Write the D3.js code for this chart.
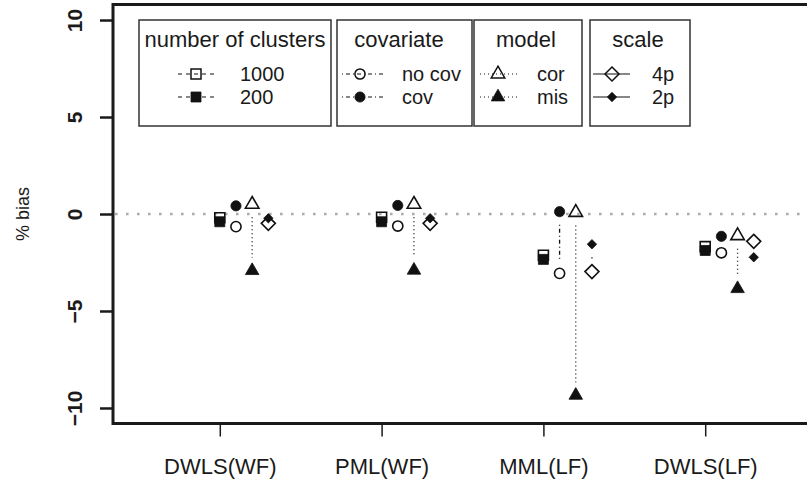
<!DOCTYPE html>
<html>
<head>
<meta charset="utf-8">
<script src="https://d3js.org/d3.v7.min.js"></script>
<style>
  body { margin: 0; background: #fff; }
  svg text { font-family: "Liberation Sans", Arial, sans-serif; fill: #1a1a1a; }
</style>
</head>
<body>
<svg id="chart" width="807" height="482"></svg>
<script>
// estimation methods (x axis)
var methods = ["DWLS(WF)", "PML(WF)", "MML(LF)", "DWLS(LF)"]
var yTicks = [-10, -5, 0, 5, 10]

// % bias per method
var clusters1000 = [-0.19, -0.17, -2.13, -1.68]
var clusters200  = [-0.40, -0.40, -2.34, -1.88]
var noCov        = [-0.65, -0.62, -3.06, -2.00]
var withCov      = [0.42, 0.44, 0.12, -1.15]
var modelCor     = [0.50, 0.50, 0.08, -1.12]
var modelMis     = [-2.92, -2.90, -9.35, -3.85]
var scale4p      = [-0.48, -0.48, -2.97, -1.41]
var scale2p      = [-0.22, -0.22, -1.56, -2.23]

// legend texts
var legendTitles = ["number of clusters", "covariate", "model", "scale"]
var legendLabels = [["1000", "200"], ["no cov", "cov"], ["cor", "mis"], ["4p", "2p"]]

var svg = d3.select("#chart")

var x = d3.scaleLinear().domain([0.34, 4.66]).range([113, 812])
var y = d3.scaleLinear().domain([-10.8, 10.8]).range([423.5, 4.5])

var dashes = { dashed: "4,4", dotdash: "1,3,4,3", dotted: "1,3", solid: null }

// symbol outlines around a centre
function shapePath(shape, cx, cy) {
    if (shape == "square") {
        var h = 5
        return "M" + (cx - h) + "," + (cy - h) + "h" + 2 * h + "v" + 2 * h + "h" + -2 * h + "Z"
    }
    if (shape == "triangle") {
        var r = 7.8
        return "M" + cx + "," + (cy - r) + "L" + (cx + r * 0.866) + "," + (cy + r / 2) +
            "L" + (cx - r * 0.866) + "," + (cy + r / 2) + "Z"
    }
    if (shape == "diamond" || shape == "smalldiamond") {
        var d = shape == "diamond" ? 7 : 4.7
        return "M" + cx + "," + (cy - d) + "L" + (cx + d) + "," + cy + "L" + cx + "," + (cy + d) +
            "L" + (cx - d) + "," + cy + "Z"
    }
    var c = 5.1
    return "M" + (cx - c) + "," + cy + "a" + c + "," + c + " 0 1,0 " + 2 * c + ",0a" + c + "," + c + " 0 1,0 " + -2 * c + ",0Z"
}

// the four groups: open member first, filled member second
var groups = [
    { open: clusters1000, filled: clusters200, off: 0.0, shape: "square", fshape: "square", lty: "dashed" },
    { open: noCov, filled: withCov, off: 0.1, shape: "circle", fshape: "circle", lty: "dotdash" },
    { open: modelCor, filled: modelMis, off: 0.2, shape: "triangle", fshape: "triangle", lty: "dotted" },
    { open: scale4p, filled: scale2p, off: 0.3, shape: "diamond", fshape: "smalldiamond", lty: "solid" }
]

// plot box
svg.append("rect")
    .attr("x", x(0.34))
    .attr("y", y(10.8))
    .attr("width", x(4.66) - x(0.34))
    .attr("height", y(-10.8) - y(10.8))
    .attr("fill", "none")
    .attr("stroke", "#1a1a1a")
    .attr("stroke-width", 3)

// zero reference line
svg.append("line")
    .attr("x1", x(0.34) + 2).attr("x2", x(4.66))
    .attr("y1", y(0)).attr("y2", y(0))
    .attr("stroke", "#acacac")
    .attr("stroke-width", 2.6)
    .attr("stroke-dasharray", "2.6,8.4")

// y axis
var yAxis = svg.append("g")
    .attr("transform", "translate(" + x(0.34) + ",0)")
    .call(d3.axisLeft(y).tickValues(yTicks).tickSize(13)
        .tickFormat(function(d) { return d < 0 ? "\u2212" + Math.abs(d) : d }))
yAxis.select(".domain").remove()
yAxis.selectAll("line").attr("stroke", "#1a1a1a").attr("stroke-width", 2.5)
yAxis.selectAll("text")
    .attr("x", null).attr("dy", null)
    .attr("transform", "translate(-31,0) rotate(-90)")
    .attr("text-anchor", "middle")
    .style("font-size", "21px")
    .style("font-weight", "bold")
    .style("font-family", "Liberation Sans, Arial, sans-serif")

// x axis
var xAxis = svg.append("g")
    .attr("transform", "translate(0," + y(-10.8) + ")")
    .call(d3.axisBottom(x).tickValues([1, 2, 3, 4]).tickSize(13)
        .tickFormat(function(d) { return methods[d - 1] }))
xAxis.select(".domain").remove()
xAxis.selectAll("line").attr("stroke", "#1a1a1a").attr("stroke-width", 1.5)
xAxis.selectAll("text")
    .attr("dy", null).attr("y", 50)
    .style("font-size", "22px")
    .style("font-family", "Liberation Sans, Arial, sans-serif")

// y label
svg.append("text")
    .attr("transform", "translate(29," + y(0) + ") rotate(-90)")
    .attr("text-anchor", "middle")
    .style("font-size", "18px")
    .text("% bias")

// connecting lines, gapped near the symbols
var gap = 13
groups.forEach(function(g) {
    methods.forEach(function(m, i) {
        var ya = y(g.open[i]), yb = y(g.filled[i])
        var top = Math.min(ya, yb) + gap, bot = Math.max(ya, yb) - gap
        if (bot <= top) return
        svg.append("line")
            .attr("x1", x(i + 1 + g.off)).attr("x2", x(i + 1 + g.off))
            .attr("y1", top).attr("y2", bot)
            .attr("stroke", "#111")
            .attr("stroke-width", 1.3)
            .attr("stroke-dasharray", dashes[g.lty])
    })
})

// points
groups.forEach(function(g) {
    svg.append("g").selectAll("path")
        .data(g.open)
        .enter().append("path")
        .attr("d", function(d, i) { return shapePath(g.shape, x(i + 1 + g.off), y(d)) })
        .attr("fill", "none")
        .attr("stroke", "#111")
        .attr("stroke-width", 1.6)
    svg.append("g").selectAll("path")
        .data(g.filled)
        .enter().append("path")
        .attr("d", function(d, i) { return shapePath(g.fshape, x(i + 1 + g.off), y(d)) })
        .attr("fill", "#111")
        .attr("stroke", "#111")
        .attr("stroke-width", 0.8)
})

// legends
var boxes = [
    { x0: 139, x1: 331, lineX: [178, 215], sym: 196, textX: 240, title: 235 },
    { x0: 337, x1: 472, lineX: [342, 383], sym: 360, textX: 402, title: 399 },
    { x0: 474, x1: 582, lineX: [480, 517], sym: 498, textX: 537, title: 526 },
    { x0: 590, x1: 690, lineX: [593, 630], sym: 612, textX: 652, title: 638 }
]
var rowY = [74, 97]

boxes.forEach(function(b, k) {
    var g = groups[k]
    var lg = svg.append("g")
    lg.append("rect")
        .attr("x", b.x0).attr("y", 20)
        .attr("width", b.x1 - b.x0).attr("height", 106)
        .attr("fill", "#fff")
        .attr("stroke", "#333")
        .attr("stroke-width", 1.5)
    lg.append("text")
        .attr("x", b.title).attr("y", 47)
        .attr("text-anchor", "middle")
        .style("font-size", "22px")
        .text(legendTitles[k])
    rowY.forEach(function(ry, j) {
        lg.append("line")
            .attr("x1", b.lineX[0]).attr("x2", b.lineX[1])
            .attr("y1", ry).attr("y2", ry)
            .attr("stroke", "#111")
            .attr("stroke-width", 1.2)
            .attr("stroke-dasharray", dashes[g.lty])
        lg.append("path")
            .attr("d", shapePath(j == 0 ? g.shape : g.fshape, b.sym, ry))
            .attr("fill", j == 0 ? "none" : "#111")
            .attr("stroke", "#111")
            .attr("stroke-width", j == 0 ? 1.5 : 0.8)
        lg.append("text")
            .attr("x", b.textX).attr("y", ry)
            .attr("dy", "0.36em")
            .style("font-size", "20px")
            .text(legendLabels[k][j])
    })
})
</script>
</body>
</html>
